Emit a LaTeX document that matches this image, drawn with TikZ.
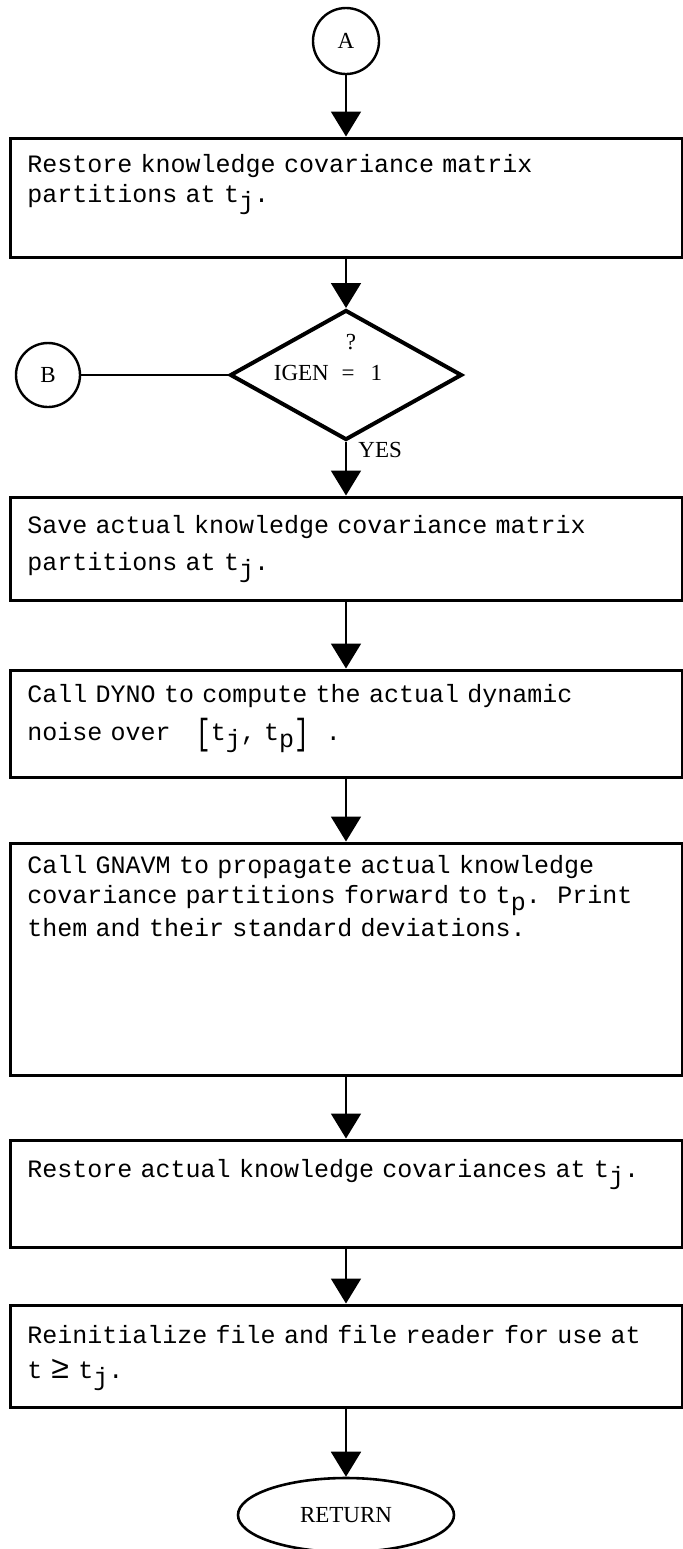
\documentclass[tikz,border=0pt]{standalone}
\usepackage{fontspec}
\setmainfont{Liberation Serif}
\setmonofont{Liberation Mono}
\usepackage{graphicx}
\usetikzlibrary{arrows.meta, shapes.geometric}

% lowered index and tall bracket, typewriter style
\newcommand{\lo}[1]{\raisebox{-0.6ex}{#1}}
\newcommand{\tallbr}[1]{\raisebox{-0.35ex}{\scalebox{1}[1.45]{#1}}}

\tikzset{
  procbox/.style={draw, line width=1.5pt, minimum width=336pt, inner sep=0},
  boxtext/.style={anchor=base west, inner sep=0, text width=345pt, align=left,
    font=\ttfamily\fontsize{12.5}{15}\selectfont},
  lbl/.style={inner sep=0, font=\fontsize{11.5}{14}\selectfont},
  conn/.style={circle, draw, line width=1.2pt, inner sep=0, font=\fontsize{11.5}{14}\selectfont},
  decision/.style={diamond, draw, line width=2pt, inner sep=0, aspect=1.8,
    minimum width=116pt, minimum height=65pt},
  terminal/.style={ellipse, draw, line width=1.3pt, inner sep=0,
    minimum width=108pt, minimum height=37pt, font=\fontsize{11.5}{14}\selectfont},
  flow/.style={-{Triangle[width=15pt, length=12.5pt]}, line width=1pt},
  plain/.style={line width=0.9pt}
}

\begin{document}
\begin{tikzpicture}[x=0.5pt, y=-0.5pt]
  \useasboundingbox (0,0) rectangle (683,1549);

  % entry A
  \node[conn, minimum size=33pt] (A) at (346,41) {A};

  % restore partitions
  \node[procbox, minimum height=59.5pt] (s1) at (346,197.5) {};
  \node[boxtext] (s1t) at (27,172) {Restore knowledge covariance matrix\\partitions at t\lo{j}.};

  % test IGEN
  \node[decision] (dec) at (346,375) {};
  \node[lbl] (q) at (351,342) {?};
  \node[lbl] (igen) at (328,373) {IGEN\hspace{0.55em}=\hspace{0.7em}1};
  \node[conn, minimum size=32pt] (B) at (48,375) {B};
  \node[lbl, anchor=base west] (yes) at (358,457) {YES};

  % save partitions
  \node[procbox, minimum height=51.5pt] (s2) at (346,548.5) {};
  \node[boxtext] (s2t) at (27,533) {Save actual knowledge covariance matrix\\[3.5pt]partitions at t\lo{j}.};

  % DYNO
  \node[procbox, minimum height=53.5pt] (s3) at (346,723.5) {};
  \node[boxtext] (s3t) at (27,702) {Call DYNO to compute the actual dynamic\\[4pt]noise over\ \ \ \tallbr{[}t\lo{j}, t\lo{p}\tallbr{]}\ \ .};

  % GNAVM
  \node[procbox, minimum height=116pt] (s4) at (346,959) {};
  \node[boxtext] (s4t) at (27,873) {Call GNAVM to propagate actual knowledge\\covariance partitions forward to t\lo{p}.\ \ Print\\them and their standard deviations.};

  % restore covariances
  \node[procbox, minimum height=53.5pt] (s5) at (346,1193.5) {};
  \node[boxtext] (s5t) at (27,1177) {Restore actual knowledge covariances at t\lo{j}.};

  % reinitialize
  \node[procbox, minimum height=51pt] (s6) at (346,1356) {};
  \node[boxtext] (s6t) at (27,1343) {Reinitialize file and file reader for use at\\[2.5pt]t {\fontsize{16}{15}\selectfont ≥} t\lo{j}.};

  % exit
  \node[terminal] (ret) at (346,1515) {RETURN};

  \draw[flow] (A) -- (s1);
  \draw[flow] (s1) -- (dec);
  \draw[plain] (B) -- (dec);
  \draw[flow] (dec) -- (s2);
  \draw[flow] (s2) -- (s3);
  \draw[flow] (s3) -- (s4);
  \draw[flow] (s4) -- (s5);
  \draw[flow] (s5) -- (s6);
  \draw[flow] (s6) -- (ret);
\end{tikzpicture}
\end{document}
